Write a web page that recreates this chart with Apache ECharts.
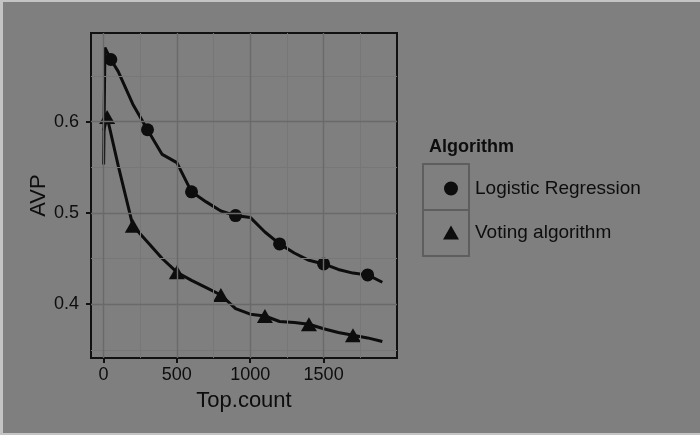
<!DOCTYPE html>
<html>
<head>
<meta charset="utf-8">
<script src="https://cdn.jsdelivr.net/npm/echarts@6/dist/echarts.min.js"></script>
<style>
  html, body { margin: 0; padding: 0; background: #7f7f7f; }
  #chart { width: 700px; height: 435px; }
</style>
</head>
<body>
<div id="chart"></div>
<script>
// Average precision (AVP) against the number of top results kept
const seriesNames = ['Logistic Regression', 'Voting algorithm'];

const logisticTop = [1, 10, 50, 100, 200, 300, 400, 500, 600, 700, 800, 900, 1000, 1100, 1200, 1300, 1400, 1500, 1600, 1700, 1800, 1900];
const logisticAvp = [0.553, 0.681, 0.668, 0.655, 0.619, 0.591, 0.564, 0.555, 0.523, 0.512, 0.502, 0.497, 0.495, 0.479, 0.466, 0.456, 0.448, 0.444, 0.438, 0.434, 0.432, 0.424];
const logisticMarks = [50, 300, 600, 900, 1200, 1500, 1800];

const votingTop = [1, 25, 100, 200, 300, 400, 500, 600, 700, 800, 900, 1000, 1100, 1200, 1300, 1400, 1500, 1600, 1700, 1800, 1900];
const votingAvp = [0.590, 0.605, 0.552, 0.486, 0.468, 0.450, 0.435, 0.426, 0.418, 0.410, 0.395, 0.389, 0.387, 0.381, 0.380, 0.378, 0.373, 0.369, 0.366, 0.363, 0.359];
const votingMarks = [25, 200, 500, 800, 1100, 1400, 1700];

const xTicks = [0, 500, 1000, 1500];
const xMinor = [250, 750, 1250, 1750];
const yTicks = [0.4, 0.5, 0.6];
const yMinor = [0.35, 0.45, 0.55, 0.65];

const FONT = 'Liberation Sans';
const INK = '#0d0d0d';

function pairs(xs, ys) { return xs.map((x, i) => [x, ys[i]]); }
function pick(xs, ys, marks) { return marks.map(m => [m, ys[xs.indexOf(m)]]); }

const gridLines = [
  ...xMinor.map(v => ({ xAxis: v, lineStyle: { color: '#777777', width: 1, type: 'solid' } })),
  ...yMinor.map(v => ({ yAxis: v, lineStyle: { color: '#777777', width: 1, type: 'solid' } })),
  ...xTicks.map(v => ({ xAxis: v, lineStyle: { color: '#6a6a6a', width: 1.4, type: 'solid' } })),
  ...yTicks.map(v => ({ yAxis: v, lineStyle: { color: '#6a6a6a', width: 1.4, type: 'solid' } }))
];

// legend key glyphs, scaled into a 16x14 key
const keyCircle = 'path://M8,0A7,7 0 1 1 7.99,0Z';
const keyTriangle = 'path://M0,14L8,0L16,14Z';

const chart = echarts.init(document.getElementById('chart'), null, { renderer: 'canvas' });
chart.setOption({
  backgroundColor: '#7f7f7f',
  animation: false,
  textStyle: { fontFamily: FONT, color: INK },
  title: {
    text: 'Algorithm',
    left: 424, top: 133,
    textStyle: { fontFamily: FONT, fontSize: 18, fontWeight: 'bold', color: INK }
  },
  legend: {
    orient: 'vertical',
    left: 438, top: 173,
    itemWidth: 16, itemHeight: 14,
    itemGap: 23,
    symbolKeepAspect: true,
    selectedMode: false,
    textStyle: { fontFamily: FONT, fontSize: 19, color: INK, lineHeight: 21, padding: [0, 0, 0, 11] },
    data: [
      { name: seriesNames[0], icon: keyCircle, itemStyle: { color: INK } },
      { name: seriesNames[1], icon: keyTriangle, itemStyle: { color: INK } }
    ]
  },
  graphic: [
    { type: 'rect', shape: { x: 423, y: 164, width: 46, height: 46 }, style: { fill: 'none', stroke: '#5e5e5e', lineWidth: 2 } },
    { type: 'rect', shape: { x: 423, y: 210, width: 46, height: 46 }, style: { fill: 'none', stroke: '#5e5e5e', lineWidth: 2 } },
    { type: 'rect', shape: { x: 0, y: 0, width: 700, height: 2 }, style: { fill: '#c4c4c4' } },
    { type: 'rect', shape: { x: 0, y: 0, width: 3, height: 435 }, style: { fill: '#c4c4c4' } },
    { type: 'rect', shape: { x: 0, y: 433, width: 700, height: 2 }, style: { fill: '#c4c4c4' } }
  ],
  grid: {
    left: 91, top: 33, right: 303, bottom: 77,
    show: true, borderColor: '#111', borderWidth: 2, backgroundColor: 'transparent',
    containLabel: false
  },
  xAxis: {
    type: 'value', min: -85, max: 2000,
    name: 'Top.count', nameLocation: 'middle', nameGap: 32,
    nameTextStyle: { fontFamily: FONT, fontSize: 22, color: INK },
    axisLine: { show: false, onZero: false },
    axisTick: { show: true, length: 5, lineStyle: { color: '#111', width: 2 }, customValues: xTicks },
    axisLabel: { fontFamily: FONT, fontSize: 18, color: INK, margin: 8, customValues: xTicks, formatter: v => String(v) },
    splitLine: { show: false }
  },
  yAxis: {
    type: 'value', min: 0.341, max: 0.697,
    name: 'AVP', nameLocation: 'middle', nameGap: 40,
    nameTextStyle: { fontFamily: FONT, fontSize: 22, color: INK },
    axisLine: { show: false, onZero: false },
    axisTick: { show: true, length: 5, lineStyle: { color: '#111', width: 2 }, customValues: yTicks },
    axisLabel: { fontFamily: FONT, fontSize: 18, color: INK, margin: 12, customValues: yTicks, formatter: v => v.toFixed(1) },
    splitLine: { show: false }
  },
  series: [
    {
      type: 'line', name: '_grid', data: [], z: 1, silent: true,
      markLine: { silent: true, symbol: 'none', label: { show: false }, animation: false, data: gridLines }
    },
    {
      type: 'line', name: seriesNames[0], data: pairs(logisticTop, logisticAvp),
      showSymbol: false, z: 3, lineStyle: { color: INK, width: 3 }, itemStyle: { color: INK }
    },
    {
      type: 'line', name: seriesNames[1], data: pairs(votingTop, votingAvp),
      showSymbol: false, z: 3, lineStyle: { color: INK, width: 3 }, itemStyle: { color: INK }
    },
    {
      type: 'scatter', name: seriesNames[0], data: pick(logisticTop, logisticAvp, logisticMarks),
      symbol: 'circle', symbolSize: 13, z: 4, itemStyle: { color: INK, opacity: 1 }
    },
    {
      type: 'scatter', name: seriesNames[1], data: pick(votingTop, votingAvp, votingMarks),
      symbol: 'triangle', symbolSize: [16, 14], z: 4, itemStyle: { color: INK, opacity: 1 }
    }
  ]
});
</script>
</body>
</html>
